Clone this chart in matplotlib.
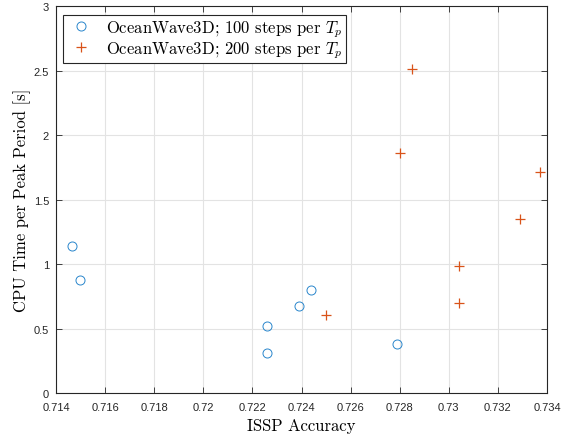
import matplotlib
matplotlib.use("Agg")
import matplotlib.pyplot as plt

plt.rcParams['mathtext.fontset'] = 'cm'

acc_100 = [0.71466, 0.71497, 0.72258, 0.72258, 0.72389, 0.72440, 0.72788]
cpu_100 = [1.144, 0.878, 0.519, 0.315, 0.679, 0.803, 0.380]

acc_200 = [0.72499, 0.72800, 0.72849, 0.73040, 0.73040, 0.73291, 0.73370]
cpu_200 = [0.607, 1.863, 2.514, 0.989, 0.702, 1.351, 1.713]

xticks = [0.714, 0.716, 0.718, 0.72, 0.722, 0.724, 0.726, 0.728, 0.73, 0.732, 0.734]
xticklabels = ['0.714', '0.716', '0.718', '0.72', '0.722', '0.724', '0.726', '0.728', '0.73', '0.732', '0.734']
yticks = [0, 0.5, 1, 1.5, 2, 2.5, 3]
yticklabels = ['0', '0.5', '1', '1.5', '2', '2.5', '3']

fig = plt.figure(figsize=(5.61, 4.39), dpi=100)
ax = fig.add_axes([56/561, 1-394.3/439, 491/561, 387.3/439])

ax.plot(acc_100, cpu_100, linestyle='none', marker='o', markersize=6.5,
        markerfacecolor='none', markeredgecolor='#2a86cc', markeredgewidth=0.7,
        label=r'OceanWave3D; 100 steps per $T_p$', clip_on=False)
ax.plot(acc_200, cpu_200, linestyle='none', marker='+', markersize=7,
        color='#D95319', markeredgewidth=0.9,
        label=r'OceanWave3D; 200 steps per $T_p$', clip_on=False)

ax.set_xlim(0.714, 0.734)
ax.set_ylim(0, 3)
ax.set_xticks(xticks)
ax.set_xticklabels(xticklabels, family='Liberation Sans', fontsize=8, color='#262626')
ax.set_yticks(yticks)
ax.set_yticklabels(yticklabels, family='Liberation Sans', fontsize=8, color='#262626')
ax.tick_params(direction='in', length=4, width=0.6, top=True, right=True, colors='#262626')
ax.tick_params(axis='x', pad=6)
ax.tick_params(axis='y', pad=5)
ax.grid(True, color='#e3e3e3', linewidth=0.8)
ax.set_axisbelow(True)
for s in ax.spines.values():
    s.set_linewidth(0.8)
    s.set_color('#262626')

ax.set_xlabel('ISSP Accuracy', family='cmr10', fontsize=12, labelpad=4)
ax.set_ylabel('CPU Time per Peak Period [s]', family='cmr10', fontsize=12, labelpad=2)

leg = ax.legend(loc='upper left', bbox_to_anchor=(7/491, 1-8.7/387.3), borderaxespad=0,
                prop={'family': 'cmr10', 'size': 12}, fancybox=False, framealpha=1,
                edgecolor='#262626', handlelength=1.8, handletextpad=0.55,
                borderpad=0.2, labelspacing=0.0)
leg.get_frame().set_linewidth(0.8)

fig.savefig('out.png', dpi=100)
